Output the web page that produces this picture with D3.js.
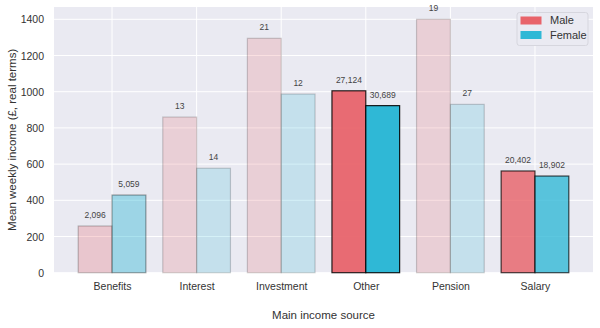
<!DOCTYPE html>
<html><head><meta charset="utf-8">
<script src="https://cdn.jsdelivr.net/npm/d3@7"></script>
<style>
body{margin:0;background:#fff;}
svg{display:block;font-family:"Liberation Sans",Arial,sans-serif;}
</style></head><body>
<svg id="c" width="600" height="328"></svg>
<script>
const categories = ["Benefits","Interest","Investment","Other","Pension","Salary"];
const series = ["Male","Female"];
const maleValues = [258, 860, 1295, 1005, 1400, 562];
const femaleValues = [429, 577, 987, 923, 930, 534];
const maleCounts = [2096, 13, 21, 27124, 19, 20402];
const femaleCounts = [5059, 14, 12, 30689, 27, 18902];
const yTicks = [0,200,400,600,800,1000,1200,1400];

const colors = {Male:"#e8636a", Female:"#2fb8d6"};
const svg = d3.select("#c");
const L=54, R=593, T=7, B=272.7;
const x = d3.scalePoint().domain(categories).range([L,R]).padding(0.686);
const y = d3.scaleLinear().domain([0,1468]).range([B,T]);
const step = x.step();
const bw = step*0.4;

svg.append("rect").attr("x",L).attr("y",T).attr("width",R-L).attr("height",B-T).attr("fill","#eaeaf2");
// gridlines
svg.append("g").selectAll("line").data(yTicks).join("line")
  .attr("x1",L).attr("x2",R).attr("y1",d=>y(d)).attr("y2",d=>y(d))
  .attr("stroke","#fff").attr("stroke-width",1);
svg.append("g").selectAll("line").data(categories).join("line")
  .attr("x1",d=>x(d)).attr("x2",d=>x(d)).attr("y1",T).attr("y2",B)
  .attr("stroke","#fff").attr("stroke-width",1);

const maxN = d3.max(maleCounts.concat(femaleCounts));
const alpha = n => Math.max(0.2, Math.sqrt(n/maxN));

const rows = [];
categories.forEach((c,i)=>{
  rows.push({c, s:"Male", v:maleValues[i], n:maleCounts[i], off:-bw});
  rows.push({c, s:"Female", v:femaleValues[i], n:femaleCounts[i], off:0});
});
const g = svg.append("g");
g.selectAll("rect").data(rows).join("rect")
  .attr("x",d=>x(d.c)+d.off).attr("width",bw)
  .attr("y",d=>y(d.v)).attr("height",d=>y(0)-y(d.v))
  .attr("fill",d=>colors[d.s]).attr("fill-opacity",d=>alpha(d.n))
  .attr("stroke","#000").attr("stroke-opacity",d=>alpha(d.n)*0.9).attr("stroke-width",1.2);
g.selectAll("text").data(rows).join("text")
  .attr("x",d=>x(d.c)+d.off+bw/2).attr("y",d=>y(d.v)-8)
  .attr("text-anchor","middle").attr("font-size",8.5).attr("fill","#444")
  .text(d=>d3.format(",")(d.n));

// axes
const ax = svg.append("g").attr("transform",`translate(0,${B})`)
  .call(d3.axisBottom(x).tickSize(0).tickPadding(0));
ax.select(".domain").remove();
ax.selectAll("text").attr("font-size",10.5).attr("fill","#333").attr("dy",null).attr("y",17.5);
const ay = svg.append("g").attr("transform",`translate(${L},0)`)
  .call(d3.axisLeft(y).tickValues(yTicks).tickSize(0).tickPadding(10).tickFormat(d3.format("d")));
ay.select(".domain").remove();
ay.selectAll("text").attr("font-size",10.5).attr("fill","#333").attr("dy","0.35em");

svg.append("text").attr("x",(L+R)/2).attr("y",319).attr("text-anchor","middle")
  .attr("font-size",11.5).attr("fill","#333").text("Main income source");
svg.append("text").attr("transform",`translate(16,${(T+B)/2}) rotate(-90)`).attr("text-anchor","middle")
  .attr("font-size",11.5).attr("fill","#333").text("Mean weekly income (£, real terms)");

// legend
const lg = svg.append("g").attr("transform","translate(517,12.5)");
lg.append("rect").attr("width",71).attr("height",33).attr("rx",2.5)
  .attr("fill","#eaeaf2").attr("stroke","#d6d6de").attr("stroke-width",1);
series.forEach((s,i)=>{
  lg.append("rect").attr("x",3.5).attr("y",4+i*14.5).attr("width",21).attr("height",8).attr("fill",colors[s]);
  lg.append("text").attr("x",33).attr("y",8+i*14.5).attr("dy","0.35em").attr("font-size",11).attr("fill","#333").text(s);
});
</script></body></html>
